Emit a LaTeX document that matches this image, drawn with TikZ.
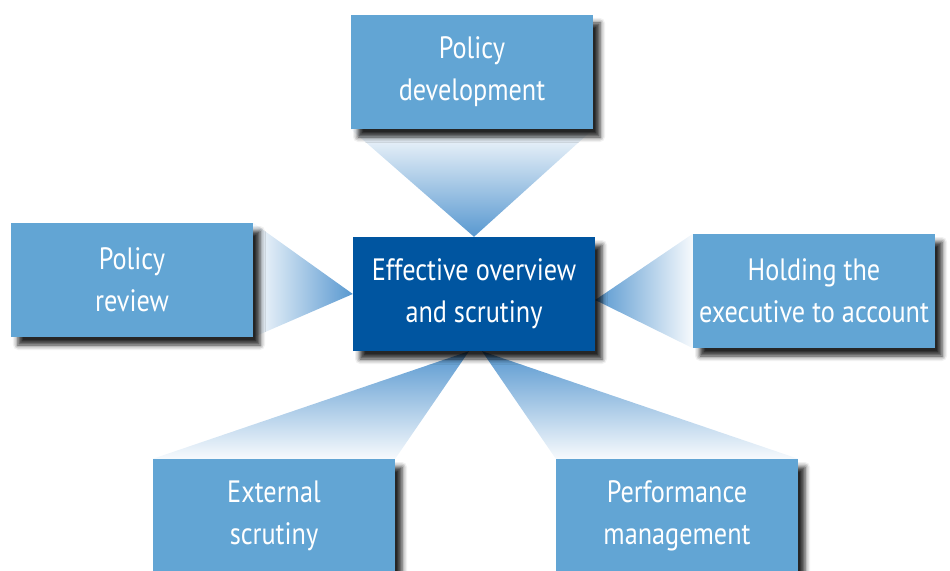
\documentclass[tikz,border=0pt]{standalone}
\usepackage{fontspec}
\setmainfont[FakeStretch=0.85]{PT Sans}
\usetikzlibrary{backgrounds, shadows.blur}
\definecolor{boxblue}{RGB}{98,165,212}
\definecolor{hubblue}{RGB}{0,85,160}
\definecolor{funnel}{RGB}{88,152,208}

\begin{document}
\begin{tikzpicture}[x=1bp, y=-1bp,
  every node/.style={font=\fontsize{31}{42}\selectfont, text=white, align=center},
  area/.style={fill=boxblue, minimum width=242bp, minimum height=114bp, inner sep=0pt,
    blur shadow={shadow xshift=7bp, shadow yshift=-8bp, shadow blur radius=5bp, shadow opacity=85}},
  hub/.style={area, fill=hubblue}]
  \useasboundingbox (0,0) rectangle (950,571);

  % centre and the five areas round it
  \node[hub] (hub) at (474,294) {Effective overview\\and scrutiny};
  \node[area] (dev) at (472,72) {Policy\\development};
  \node[area] (review) at (132,280) {Policy\\review};
  \node[area] (holding) at (814,291) {Holding the\\executive to account};
  \node[area] (external) at (274,516) {External\\scrutiny};
  \node[area] (perf) at (677,516) {Performance\\management};

  % shaded funnels into the centre
  \begin{scope}[on background layer]
    \shade[top color=funnel!5, bottom color=funnel] (dev.south west) -- (dev.south east) -- (hub.north) -- cycle;
    \shade[left color=funnel!5, right color=funnel] (review.north east) -- (hub.west) -- (review.south east) -- cycle;
    \shade[left color=funnel, right color=funnel!5] (holding.north west) -- ([yshift=-6bp]hub.east) -- (holding.south west) -- cycle;
    \shade[top color=funnel, bottom color=funnel!5] (external.north west) -- ([xshift=-5bp]hub.south) -- (external.north east) -- cycle;
    \shade[top color=funnel, bottom color=funnel!5] (perf.north west) -- ([xshift=8bp]hub.south) -- (perf.north east) -- cycle;
  \end{scope}
\end{tikzpicture}
\end{document}
